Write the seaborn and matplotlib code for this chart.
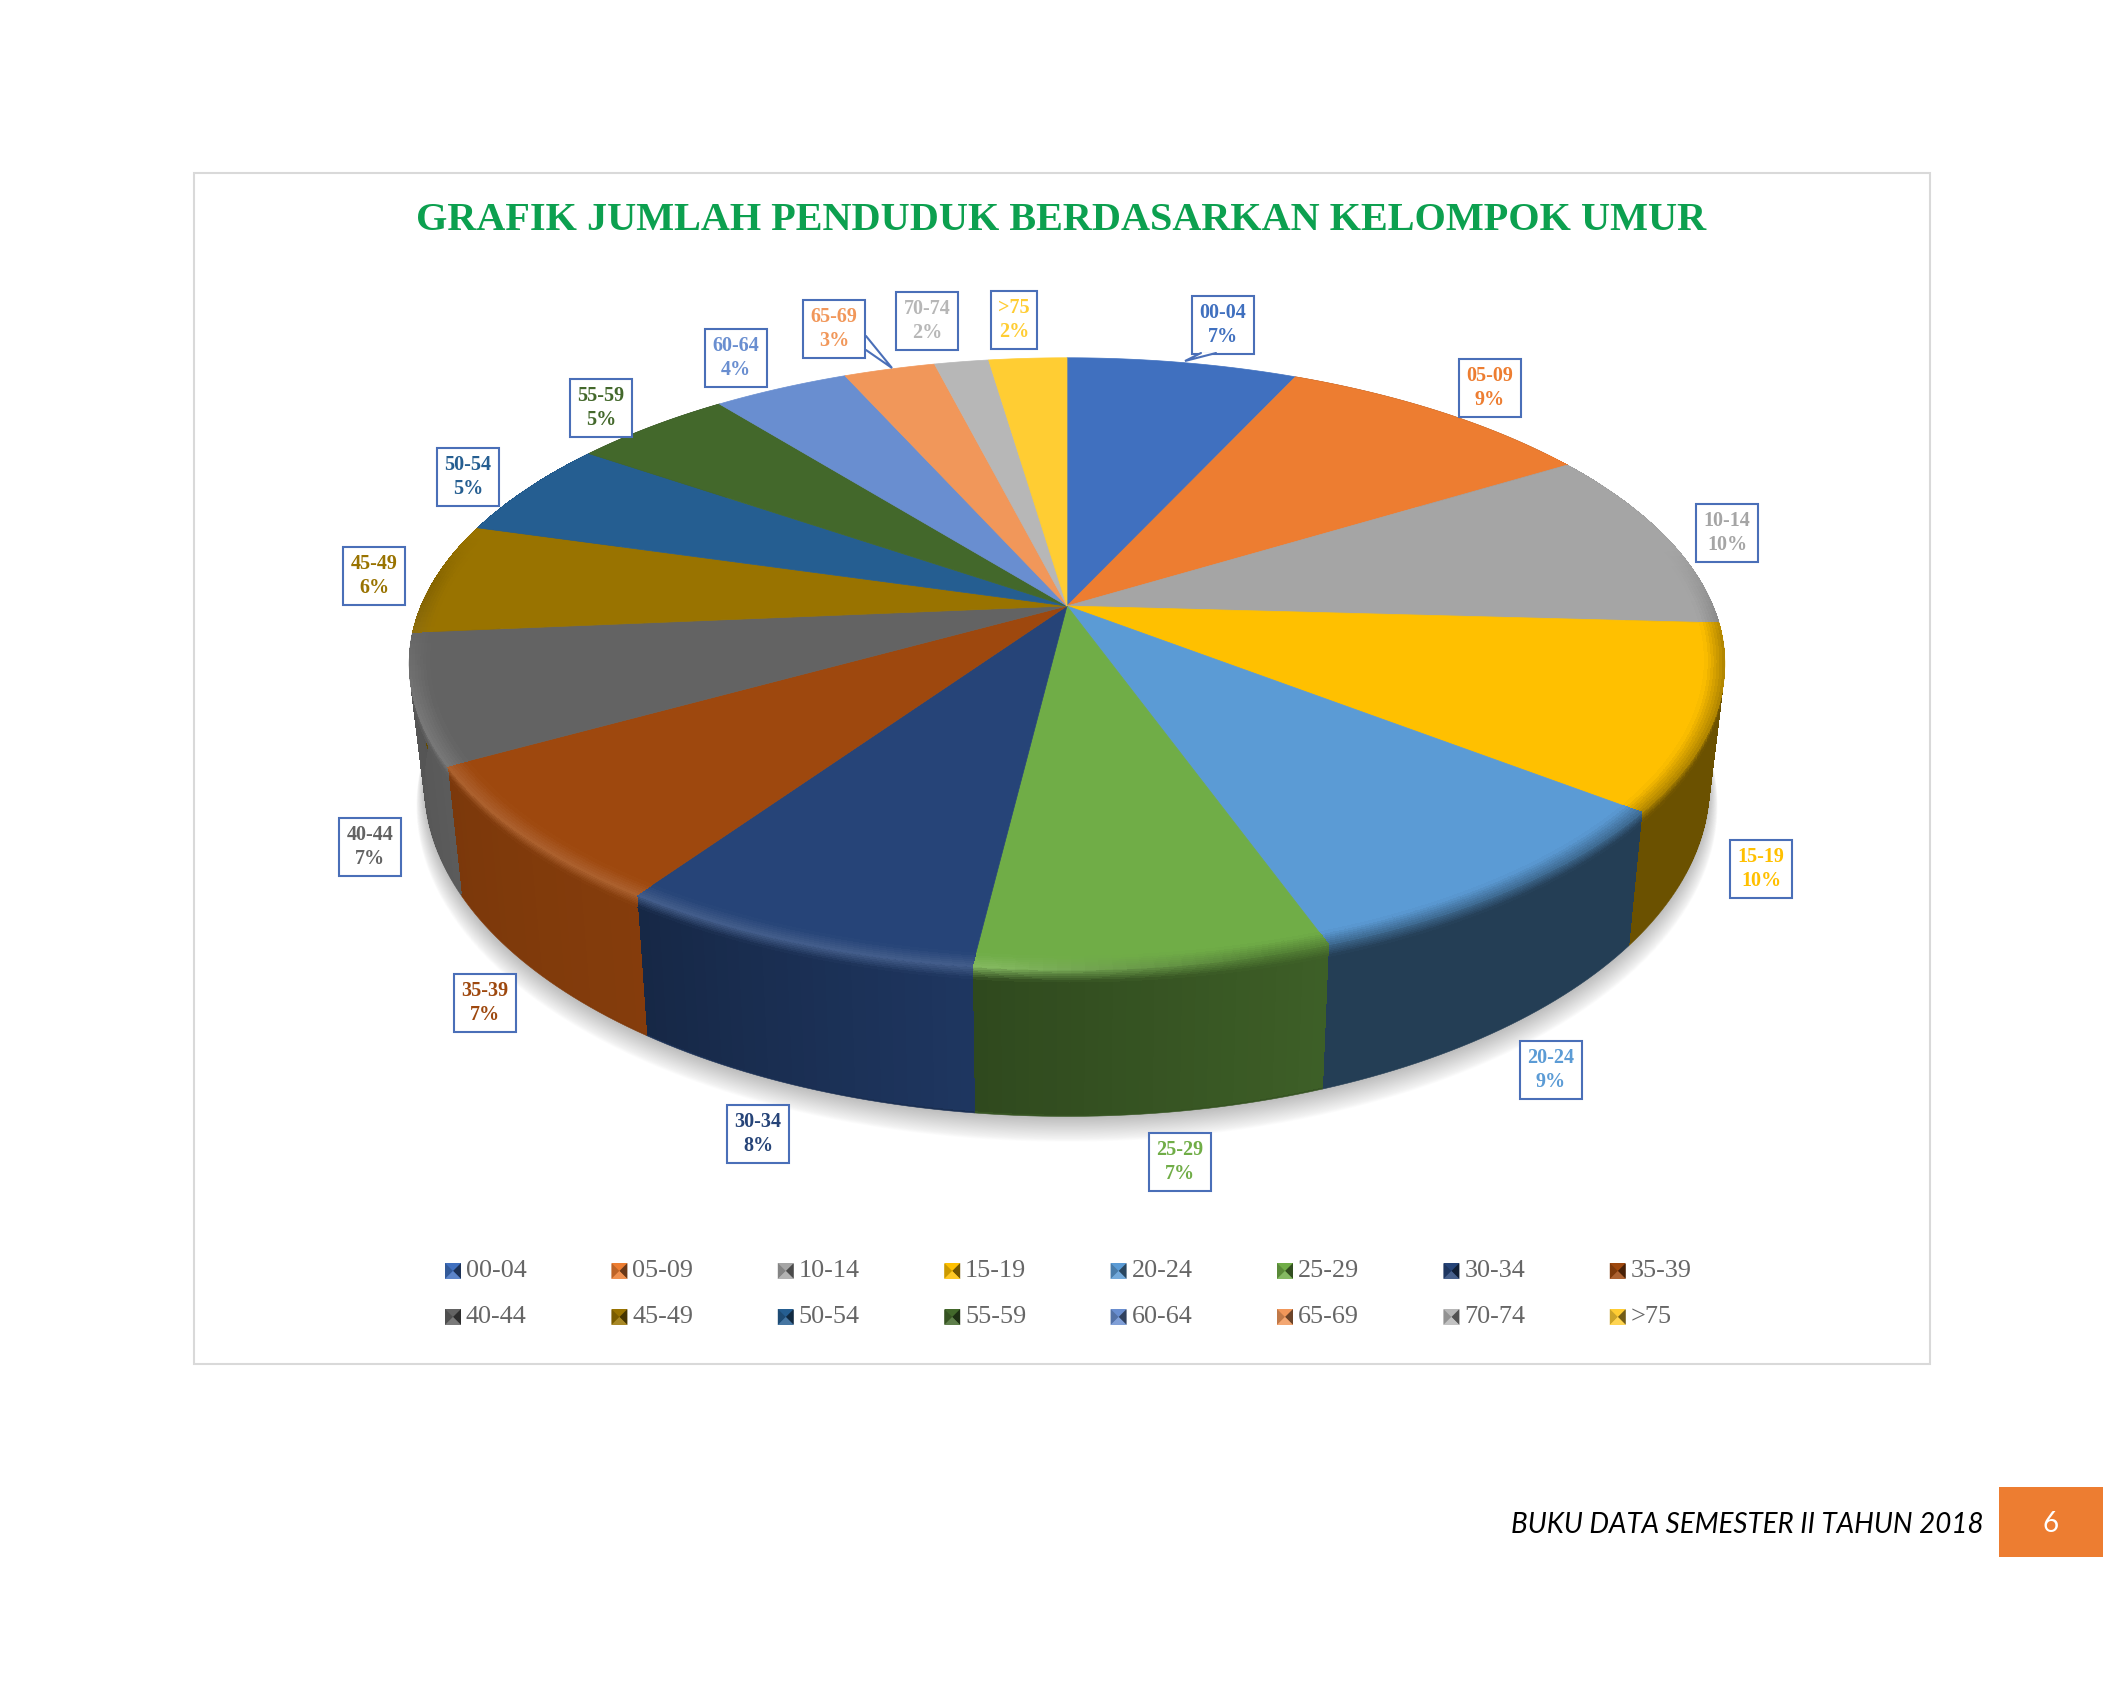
import numpy as np
import pandas as pd
import seaborn as sns
import matplotlib
matplotlib.use("Agg")
import matplotlib.pyplot as plt
from matplotlib.collections import PolyCollection
from matplotlib.patches import Rectangle

# Age groups and their share of the population (percent)
age_groups = ["00-04", "05-09", "10-14", "15-19", "20-24", "25-29", "30-34", "35-39",
              "40-44", "45-49", "50-54", "55-59", "60-64", "65-69", "70-74", ">75"]
shares = [6.8, 9.4, 9.7, 9.7, 9.0, 7.3, 7.6, 7.3, 6.8, 5.9, 5.2, 4.7, 4.0, 2.7, 1.6, 2.3]

TITLE = "GRAFIK JUMLAH PENDUDUK BERDASARKAN KELOMPOK UMUR"
FOOTER = "BUKU DATA SEMESTER II TAHUN 2018"
PAGE = "6"

slice_hex = ["#4070BF", "#ED7D31", "#A5A5A5", "#FFC000", "#5B9BD5", "#70AD47", "#264478", "#9E480E",
             "#636363", "#997300", "#255E91", "#43682B", "#698ED0", "#F1975A", "#B7B7B7", "#FFCD33"]
# Side-wall brightness at the start and end of each slice
wall_shade = {2: (.62, .62), 3: (.42, .42), 4: (.40, .40), 5: (.55, .42), 6: (.80, .58),
              7: (.84, .78), 8: (.92, .85), 9: (.65, .65)}
# Label box centres, in figure pixels
label_xy = [(1223, 325), (1490, 388), (1727, 533), (1761, 869), (1551, 1070), (1180, 1162),
            (758, 1134), (485, 1003), (370, 847), (374, 576), (468, 477), (601, 408),
            (736, 358), (834, 329), (927, 321), (1014, 320)]

W, H, DPI = 2126, 1694, 100
CX, CY, RX, RY, PERSP = 1067, 606, 646, 295, 0.1885
BOX_BLUE = "#4A6FB8"

sns.set_theme(style="white")
palette = sns.color_palette(slice_hex)

fig = plt.figure(figsize=(W / DPI, H / DPI), dpi=DPI, facecolor="white")
ax = fig.add_axes([0, 0, 1, 1])
ax.set_xlim(0, W)
ax.set_ylim(H, 0)
ax.axis("off")


def project(theta, r=1.0):
    """Perspective view of a point on the disc; theta runs clockwise from 12 o'clock."""
    x, y = r * np.sin(theta), r * np.cos(theta)
    d = 1 + PERSP * y
    return CX + RX * x / d, CY - RY * y / d


def lower(sx, sy):
    """Point on the base of the disc lying under a point of the top face."""
    return CX + (sx - CX) * 0.977, sy + 116 + 0.085 * (sy - CY)


def mix(a, b, t):
    return tuple((1 - t) * np.array(a) + t * np.array(b))


edges = np.radians(np.concatenate([[0], np.cumsum(shares)]) / np.sum(shares) * 360)

# Soft shadow on the ground, strongest close to the base
ring = np.linspace(0, 2 * np.pi, 240)
for i in range(30, 0, -1):
    sx, sy = project(ring, 1 + i * 0.0004)
    bx, by = lower(sx, sy)
    ax.fill(bx, by + 1 + i * 0.62, color="#4a4a4a", alpha=0.011, lw=0, zorder=1)

# Side wall: an antialiased outline per slice, then a gradient and a soft crest inside it
base_polys, base_cols = [], []
grad_polys, grad_cols = [], []
band_polys, band_cols = [], []
RIM_STEPS = 7
for i, (a0, a1) in enumerate(zip(edges[:-1], edges[1:])):
    top = palette[i]
    s0, s1 = wall_shade.get(i, (.5, .5))
    n = max(4, int((a1 - a0) / np.radians(1.0)))
    th = np.linspace(a0, a1, n + 1)
    ux, uy = project(th)
    lx, ly = lower(ux, uy)
    if np.degrees(a1) > 55 and np.degrees(a0) < 305:
        base_polys.append(np.c_[np.r_[ux, lx[::-1]], np.r_[uy, ly[::-1]]])
        base_cols.append(tuple(c * (s0 + s1) / 2 for c in top))
    for j in range(n):
        t0, t1 = th[j], th[j + 1]
        mid = (t0 + t1) / 2
        deg = np.degrees(mid)
        if not 55 < deg < 305:
            continue
        wall = tuple(c * (s0 + (s1 - s0) * (j + .5) / n) for c in top)
        lit = np.clip((deg - 165) / 20, 0, 1) * np.clip((275 - deg) / 25, 0, 1)
        fade = np.clip((deg - 78) / 18, 0, 1) * np.clip((285 - deg) / 15, 0, 1)
        crest = mix(top, mix(mix(top, wall, .55), mix(top, (1, 1, 1), .14), lit), fade)
        x0, y0, x1, y1 = ux[j], uy[j], ux[j + 1], uy[j + 1]
        bx0, by0, bx1, by1 = lx[j], ly[j], lx[j + 1], ly[j + 1]
        # gradient body stops just short of the base so the outline stays smooth
        grad_polys.append([(x0, y0), (x1, y1),
                           (x1 + (bx1 - x1) * .985, y1 + (by1 - y1) * .985),
                           (x0 + (bx0 - x0) * .985, y0 + (by0 - y0) * .985)])
        grad_cols.append(wall)
        for q in range(RIM_STEPS):
            f0, f1 = q / RIM_STEPS * .085, (q + 1) / RIM_STEPS * .085
            band_polys.append([(x0 + (bx0 - x0) * f0, y0 + (by0 - y0) * f0),
                               (x1 + (bx1 - x1) * f0, y1 + (by1 - y1) * f0),
                               (x1 + (bx1 - x1) * f1, y1 + (by1 - y1) * f1),
                               (x0 + (bx0 - x0) * f1, y0 + (by0 - y0) * f1)])
            band_cols.append(mix(crest, wall, (q + .5) / RIM_STEPS))

ax.add_collection(PolyCollection(base_polys, facecolors=base_cols, edgecolors=base_cols,
                                 linewidths=0.4, zorder=2))
ax.add_collection(PolyCollection(grad_polys, facecolors=grad_cols, edgecolors="none",
                                 linewidths=0, antialiaseds=False, zorder=2.1))
ax.add_collection(PolyCollection(band_polys, facecolors=band_cols, edgecolors="none",
                                 linewidths=0, antialiaseds=False, zorder=2.2))

# Top face of the disc
for i, (a0, a1) in enumerate(zip(edges[:-1], edges[1:])):
    th = np.linspace(a0, a1, 80)
    px, py = project(th)
    ax.fill(np.r_[CX, px], np.r_[CY, py], color=palette[i], lw=0.5, zorder=3)

# Crest blending onto the top face, following each slice's rim
strip_polys, strip_cols = [], []
for i, (a0, a1) in enumerate(zip(edges[:-1], edges[1:])):
    top = palette[i]
    s0, s1 = wall_shade.get(i, (.5, .5))
    n = max(4, int((a1 - a0) / np.radians(1.0)))
    th = np.linspace(a0, a1, n + 1)
    for j in range(n):
        t0, t1 = th[j], th[j + 1]
        deg = np.degrees((t0 + t1) / 2)
        if not 78 < deg < 285:
            continue
        wall = tuple(c * (s0 + (s1 - s0) * (j + .5) / n) for c in top)
        lit = np.clip((deg - 165) / 20, 0, 1) * np.clip((275 - deg) / 25, 0, 1)
        fade = np.clip((deg - 78) / 18, 0, 1) * np.clip((285 - deg) / 15, 0, 1)
        crest = mix(top, mix(mix(top, wall, .55), mix(top, (1, 1, 1), .14), lit), fade)
        for q in range(RIM_STEPS):
            r0, r1 = 1 - q / RIM_STEPS * .03, 1 - (q + 1) / RIM_STEPS * .03
            strip_polys.append([project(t0, r0), project(t1, r0), project(t1, r1), project(t0, r1)])
            strip_cols.append(mix(crest, top, (q + .5) / RIM_STEPS))
ax.add_collection(PolyCollection(strip_polys, facecolors=strip_cols, edgecolors="none",
                                 linewidths=0, antialiaseds=False, zorder=4))

# Chart frame and title
ax.add_patch(Rectangle((194, 173), 1736, 1191, fill=False, ec="#D9D9D9", lw=1.5, zorder=0))
ax.text(1061, 221, TITLE, ha="center", va="center", fontsize=29, fontweight="bold",
        family="Liberation Serif", color="#0CA04F", zorder=6)

# Data labels
for name, v, c, (lx_, ly_) in zip(age_groups, shares, palette, label_xy):
    ax.text(lx_, ly_, f"{name}\n{v:.0f}%", ha="center", va="center", fontsize=14.5, fontweight="bold",
            family="Liberation Serif", color=c, linespacing=1.25, zorder=8,
            bbox=dict(boxstyle="square,pad=0.36", fc="white", ec=BOX_BLUE, lw=1.5))

# Leader tails on the two boxes that sit away from their slices
for tail in ([(866, 336), (892, 368), (866, 350)], [(1201, 353), (1185, 361), (1216, 353)]):
    xs, ys = zip(*tail)
    ax.fill(xs, ys, color="white", lw=0, zorder=9)
    ax.plot(xs, ys, color=BOX_BLUE, lw=1.5, solid_joinstyle="miter", zorder=9)

# Legend: two rows of eight bevelled swatches
legend = pd.DataFrame({
    "group": age_groups,
    "x": [453 + 166.4 * (i % 8) for i in range(len(age_groups))],
    "y": [1271 + 46 * (i // 8) for i in range(len(age_groups))],
})
sns.scatterplot(data=legend, x="x", y="y", hue="group", palette=palette, marker="s", s=120,
                linewidth=0, legend=False, ax=ax, zorder=6)
ax.set_xlim(0, W)
ax.set_ylim(H, 0)
ax.set_xlabel("")
ax.set_ylabel("")
half = 8
for (_, row), c in zip(legend.iterrows(), palette):
    x, y = row["x"], row["y"]
    ax.fill([x + half, x, x + half], [y - half, y, y + half], color=tuple(v * .45 for v in c), lw=0, zorder=7)
    ax.fill([x - half, x, x - half], [y - half, y, y + half], color=tuple(v * .8 for v in c), lw=0, zorder=7)
    ax.fill([x - half, x, x + half], [y + half, y, y + half], color=mix(c, (1, 1, 1), .15), lw=0, zorder=7)
    ax.text(x + 13, y, row["group"], ha="left", va="center", fontsize=18.8,
            family="Liberation Serif", color="#666666", zorder=7)

# Page footer
ax.text(1984, 1525, FOOTER, ha="right", va="center", fontsize=20, style="italic",
        family="Lato", color="black", zorder=6)
ax.add_patch(Rectangle((1999, 1487), 104, 70, fc="#ED7D31", ec="none", zorder=5))
ax.text(2051, 1524, PAGE, ha="center", va="center", fontsize=20, family="Lato", color="white", zorder=6)

fig.savefig("out.png", dpi=DPI, facecolor="white")
